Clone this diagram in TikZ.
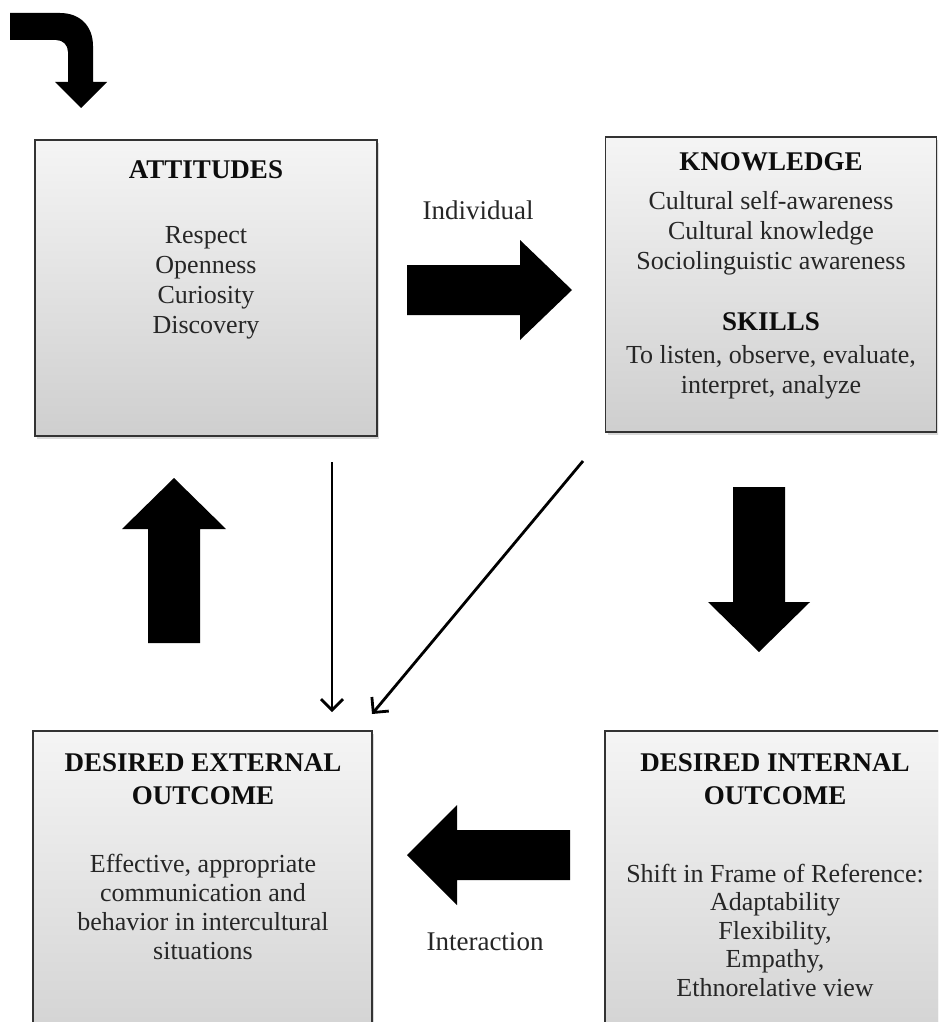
\documentclass[tikz,border=0pt]{standalone}
\usepackage{fontspec}
\setmainfont{Liberation Serif}
\usetikzlibrary{arrows.meta,shadows}

\begin{document}
\begin{tikzpicture}[x=1pt,y=-1pt,
	box/.style={draw=black!80,line width=1.8pt,top color=black!4,bottom color=black!19,
		drop shadow={shadow xshift=2pt,shadow yshift=-3pt,opacity=.3},inner sep=0pt},
	boxtitle/.style={font=\fontsize{27}{33}\selectfont\bfseries,align=center,text=black!95},
	boxtext/.style={font=\fontsize{26}{30}\selectfont,align=center,text=black!85},
	flowlabel/.style={font=\fontsize{27}{32}\selectfont,text=black!85},
	thinarrow/.style={line width=2.8pt,-{Straight Barb[length=11pt,width=22pt,line width=2.8pt]}}
	]
		\useasboundingbox (0,0) rectangle (938,1022);
		\clip (0,0) rectangle (938,1022);
		\path
		(572,290) coordinate (R)
		(759,652) coordinate (D)
		(407,855) coordinate (L)
		(174,478) coordinate (U)
		(332,462) coordinate (a1)
		(332,712) coordinate (a2)
		(583,461) coordinate (b1)
		(372,714) coordinate (b2)
		;
		% boxes
		\node[box,minimum width=342pt,minimum height=296pt] (att) at (206,288) {};
		\node[box,minimum width=331pt,minimum height=295pt] (know) at (771,284.5) {};
		\node[box,minimum width=339pt,minimum height=349pt] (ext) at (202.5,905.5) {};
		\node[box,minimum width=355pt,minimum height=349pt] (int) at (782.5,905.5) {};
		
		\node[boxtitle] (attT) at (206,170) {ATTITUDES};
		\node[boxtext] (attB) at (206,283) {Respect\\Openness\\Curiosity\\Discovery};
		\node[boxtitle] (knowT) at (771,162) {KNOWLEDGE};
		\node[boxtext] (knowB) at (771,233) {Cultural self-awareness\\Cultural knowledge\\Sociolinguistic awareness};
		\node[boxtitle] (skillT) at (771,322) {SKILLS};
		\node[boxtext] (skillB) at (771,372) {To listen, observe, evaluate,\\interpret, analyze};
		\node[boxtitle] (extT) at (203,779) {DESIRED EXTERNAL\\OUTCOME};
		\node[boxtext,font=\fontsize{26}{29}\selectfont] (extB) at (203,907) {Effective, appropriate\\communication and\\behavior in intercultural\\situations};
		\node[boxtitle] (intT) at (775,779) {DESIRED INTERNAL\\OUTCOME};
		\node[boxtext,font=\fontsize{26}{28.5}\selectfont] (intB) at (775,930) {Shift in Frame of Reference:\\Adaptability\\Flexibility,\\Empathy,\\Ethnorelative view};
		
		\node[flowlabel] (indiv) at (478,210) {Individual};
		\node[flowlabel] (inter) at (485,942) {Interaction};
		
		% block arrows
		\fill (R) -- +(-52,-50) -- +(-52,-25) -- +(-165,-25) -- +(-165,25) -- +(-52,25) -- +(-52,50) -- cycle;
		\fill (D) -- +(-51,-50) -- +(-26,-50) -- +(-26,-165) -- +(26,-165) -- +(26,-50) -- +(51,-50) -- cycle;
		\fill (L) -- +(50,-50) -- +(50,-25) -- +(163,-25) -- +(163,25) -- +(50,25) -- +(50,50) -- cycle;
		\fill (U) -- +(-52,51) -- +(-26,51) -- +(-26,165) -- +(26,165) -- +(26,51) -- +(52,51) -- cycle;
		\fill (10,13) -- (60,13) .. controls (80,13) and (93,26) .. (93,46) -- (93,82) -- (107,82)
		-- (81,108) -- (55,82) -- (68,82) -- (68,52) .. controls (68,45) and (63,40) .. (56,40)
		-- (10,40) -- cycle;
		
		\draw[thinarrow] (a1) -- (a2);
		\draw[thinarrow] (b1) -- (b2);
	\end{tikzpicture}
\end{document}
